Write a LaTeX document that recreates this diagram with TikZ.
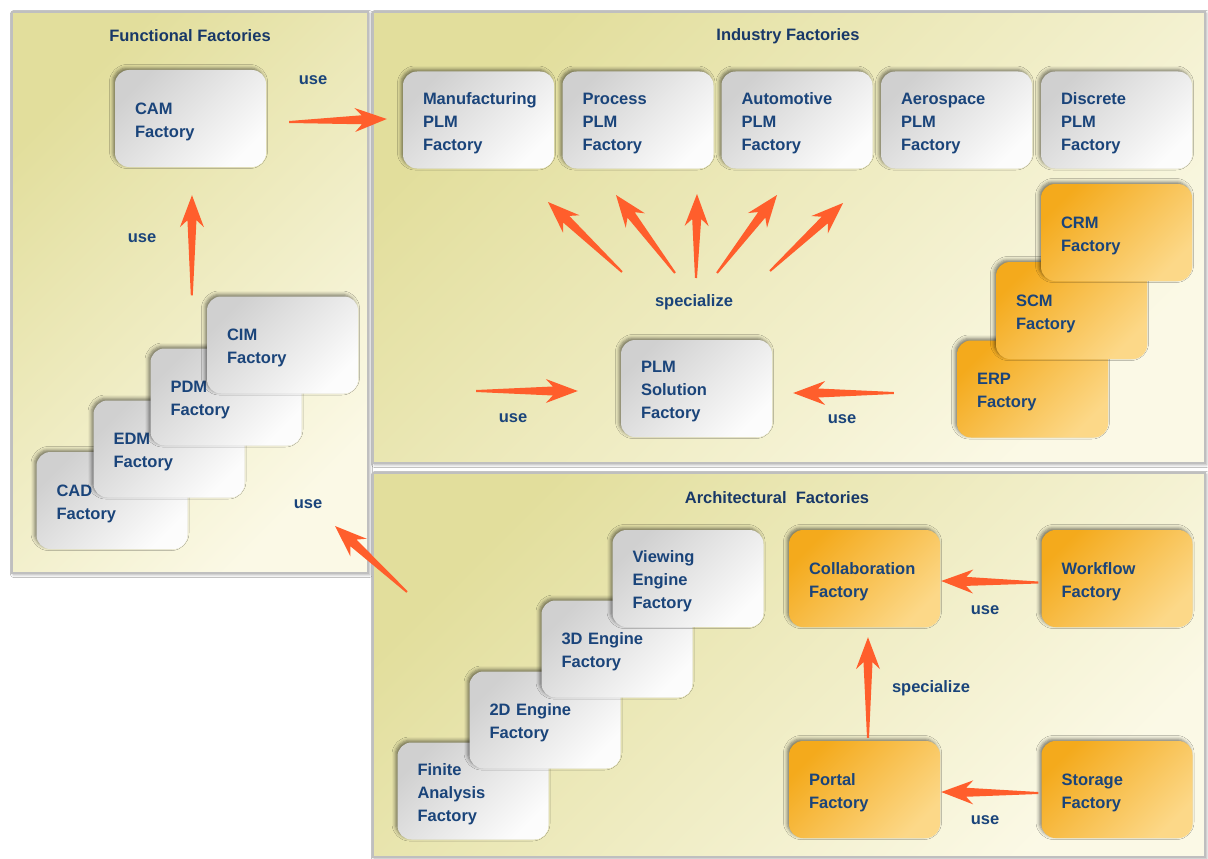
\documentclass[tikz,border=0pt]{standalone}
\usepackage{fontspec}
\setmainfont{Liberation Sans}
\usetikzlibrary{calc,shadows.blur}

\definecolor{ink}{RGB}{26,68,122}
\definecolor{titleink}{RGB}{24,56,104}
\definecolor{arrowc}{RGB}{255,94,44}
\definecolor{panelA}{RGB}{226,222,156}
\definecolor{panelB}{RGB}{251,249,230}
\definecolor{boxA}{RGB}{208,208,208}
\definecolor{boxB}{RGB}{252,252,252}
\definecolor{orgA}{RGB}{244,170,28}
\definecolor{orgB}{RGB}{252,216,136}

\newcommand\facfont{\fontsize{16.5}{23}\selectfont\bfseries}

% tapered block arrow from #1 (tail) to #2 (tip)
\newcommand\fatarrow[2]{%
  \coordinate (fa-n) at ($(#2)!25pt!(#1)$);
  \coordinate (fa-b) at ($(#2)!32pt!(#1)$);
  \fill[arrowc] ($(#1)!1pt!90:(#2)$) -- ($(fa-n)!4.5pt!90:(#2)$)
    -- ($(fa-b)!12pt!90:(#2)$) -- (#2) -- ($(fa-b)!12pt!-90:(#2)$)
    -- ($(fa-n)!4.5pt!-90:(#2)$) -- ($(#1)!1pt!-90:(#2)$) -- cycle;}

\tikzset{
  panel/.style={draw=black!25, line width=1.2pt, top color=panelA, bottom color=panelB,
    shading angle=45,
    blur shadow={shadow xshift=1.5pt, shadow yshift=-1.5pt, shadow blur radius=3pt, shadow opacity=35}},
  title/.style={font=\facfont, text=titleink},
  lbl/.style={font=\facfont, text=ink},
  fbox/.style={rounded corners=14pt, minimum width=151pt, minimum height=97pt,
    text width=111pt, inner xsep=0pt, align=left, font=\facfont, text=ink,
    text height=18pt,
    blur shadow={shadow xshift=-2pt, shadow yshift=2pt, shadow blur radius=3.5pt,
      shadow opacity=50}},
  gbox/.style={fbox, top color=boxA, bottom color=boxB, shading angle=45},
  obox/.style={fbox, top color=orgA, bottom color=orgB, shading angle=45},
}

\begin{document}
\begin{tikzpicture}[x=1pt, y=-1pt]
\useasboundingbox (0,0) rectangle (1208,859);
\fill[white] (0,0) rectangle (1208,859);

% the three panels
\path[panel] (12,12) rectangle (368,573);
\path[panel] (373,12) rectangle (1205,463);
\path[panel] (373,473) rectangle (1205,857);

\node[title] (tfun) at (190,36) {Functional Factories};
\node[title] (tind) at (788,36) {Industry Factories};
\node[title] (tarc) at (777,498) {Architectural\ \ Factories};

% functional factories
\node[gbox] (cam) at (190.5,118.5) {CAM\\Factory};
\node[gbox] (cad) at (112,500.5) {CAD\\Factory};
\node[gbox] (edm) at (169,449) {EDM\\Factory};
\node[gbox] (pdm) at (226,397) {PDM\\Factory};
\node[gbox] (cim) at (282.5,345) {CIM\\Factory};

% industry factories
\node[gbox] (mfg) at (478.5,120) {Manufacturing\\PLM\\Factory};
\node[gbox] (proc) at (638,120) {Process\\PLM\\Factory};
\node[gbox] (auto) at (797,120) {Automotive\\PLM\\Factory};
\node[gbox] (aero) at (956.5,120) {Aerospace\\PLM\\Factory};
\node[gbox] (disc) at (1116.5,120) {Discrete\\PLM\\Factory};
\node[gbox] (plm) at (696.5,388.5) {PLM\\Solution\\Factory};
\node[obox] (erp) at (1032.5,389) {ERP\\Factory};
\node[obox] (scm) at (1071.5,310.5) {SCM\\Factory};
\node[obox] (crm) at (1116.5,232.5) {CRM\\Factory};

% architectural factories
\node[gbox] (fin) at (473,791) {Finite\\Analysis\\Factory};
\node[gbox] (eng2) at (545,720) {2D Engine\\Factory};
\node[gbox] (eng3) at (617,649) {3D Engine\\Factory};
\node[gbox] (view) at (688,578.5) {Viewing\\Engine\\Factory};
\node[obox] (collab) at (864.5,578.5) {Collaboration\\Factory};
\node[obox] (wf) at (1117,578.5) {Workflow\\Factory};
\node[obox] (portal) at (864.5,789.5) {Portal\\Factory};
\node[obox] (storage) at (1117,789.5) {Storage\\Factory};

% arrow end points
\coordinate (camT) at ($(cam.east)+(23,3.5)$);
\coordinate (camH) at ($(mfg.west)+(-16,-1)$);
\coordinate (stackT) at ($(cim.north west)+(-15,-1)$);
\coordinate (stackH) at ($(cam.south)+(1.5,28)$);
\coordinate (archT) at (407,592);
\coordinate (archH) at (335,526);
\coordinate (spT1) at (622,272);  \coordinate (spH1) at (548,202);
\coordinate (spT2) at (675,273);  \coordinate (spH2) at (616,195);
\coordinate (spT3) at (696,278);  \coordinate (spH3) at (697,194);
\coordinate (spT4) at (717,273);  \coordinate (spH4) at (777,195);
\coordinate (spT5) at (770,271);  \coordinate (spH5) at (843,203);
\coordinate (plmLT) at (476,391);
\coordinate (plmLH) at ($(plm.west)+(-43,2.5)$);
\coordinate (plmRT) at ($(erp.west)+(-63,4)$);
\coordinate (plmRH) at ($(plm.east)+(21,4.5)$);
\coordinate (portT) at ($(portal.north)+(3.5,-3)$);
\coordinate (collH) at ($(collab.south)+(3.5,10)$);
\coordinate (wfT) at ($(wf.west)+(-3,4)$);
\coordinate (wfH) at ($(collab.east)+(1,2.5)$);
\coordinate (stT) at ($(storage.west)+(-3,3.5)$);
\coordinate (stH) at ($(portal.east)+(1,2.5)$);

\fatarrow{camT}{camH}
\fatarrow{stackT}{stackH}
\fatarrow{archT}{archH}
\fatarrow{spT1}{spH1}
\fatarrow{spT2}{spH2}
\fatarrow{spT3}{spH3}
\fatarrow{spT4}{spH4}
\fatarrow{spT5}{spH5}
\fatarrow{plmLT}{plmLH}
\fatarrow{plmRT}{plmRH}
\fatarrow{portT}{collH}
\fatarrow{wfT}{wfH}
\fatarrow{stT}{stH}

% labels
\node[lbl] (u1) at (313,80) {use};
\node[lbl] (u2) at (142,238) {use};
\node[lbl] (u3) at (308,504) {use};
\node[lbl] (u4) at (513,418) {use};
\node[lbl] (u5) at (842,419) {use};
\node[lbl] (s1) at (694,302) {specialize};
\node[lbl] (u6) at (985,610) {use};
\node[lbl] (s2) at (931,688) {specialize};
\node[lbl] (u7) at (985,820) {use};
\end{tikzpicture}
\end{document}
